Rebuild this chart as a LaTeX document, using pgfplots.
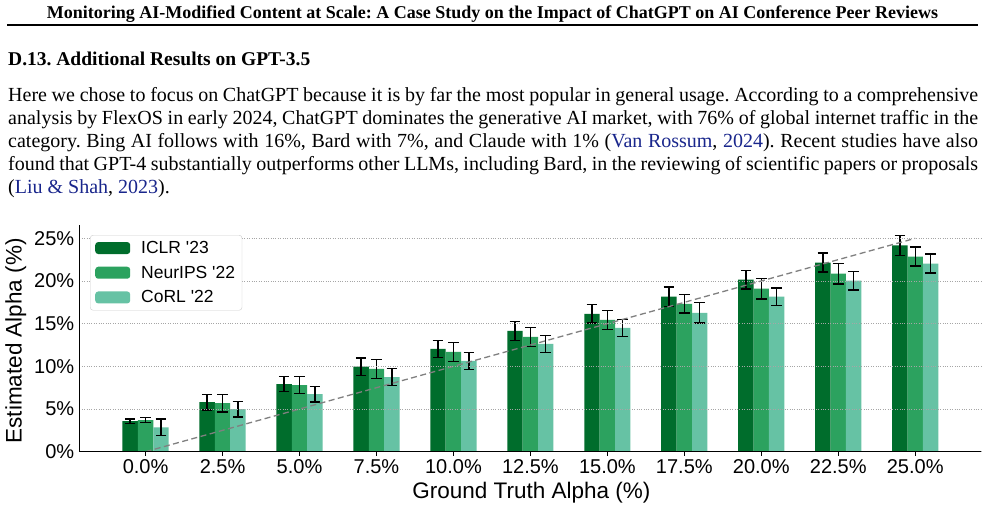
\documentclass[border=0pt]{standalone}
\usepackage{fontspec}
\setmainfont{Liberation Serif}
\newfontfamily\arial{Liberation Sans}
\usepackage{pgfplots}
\usepackage{pgfplotstable}
\pgfplotsset{compat=1.18}

\definecolor{iclr}{HTML}{006D2C}
\definecolor{neurips}{HTML}{2CA25F}
\definecolor{corl}{HTML}{66C2A4}
\definecolor{citeblue}{rgb}{0.10,0.15,0.55}

% estimated alpha (%) and error half-widths per ground-truth level
\pgfplotstableread{
x y e
0 3.57 0.24
1 5.80 0.92
2 7.92 0.90
3 9.96 1.00
4 12.04 1.00
5 14.16 1.10
6 16.16 1.10
7 18.16 1.14
8 20.16 1.10
9 22.16 1.10
10 24.16 1.20
}\tabICLR
\pgfplotstableread{
x y e
0 3.69 0.30
1 5.69 1.02
2 7.80 1.00
3 9.69 1.10
4 11.69 1.10
5 13.45 1.10
6 15.45 1.10
7 17.33 1.10
8 19.10 1.20
9 20.86 1.20
10 22.86 1.10
}\tabNeurIPS
\pgfplotstableread{
x y e
0 2.86 0.98
1 4.98 0.92
2 6.75 0.92
3 8.75 1.02
4 10.63 1.00
5 12.63 1.00
6 14.50 1.00
7 16.27 1.20
8 18.16 1.00
9 20.04 1.10
10 22.04 1.10
}\tabCoRL

\pgfplotsset{
  barleg/.style={legend image code/.code={\fill[##1] (0bp,-6bp) rectangle (35bp,6bp);}},
  errs/.style={error bars/.cd, y dir=both, y explicit,
    error bar style={line width=1.4bp, black},
    error mark options={rotate=90, mark size=5.3bp, line width=1.4bp, black}},
}

\begin{document}
\frenchspacing
\begin{tikzpicture}
\fill[white] (0bp,0bp) rectangle (985bp,510bp);
\useasboundingbox (0bp,0bp) rectangle (985bp,510bp);

% running head and rule
\node[anchor=base, inner sep=0, font=\fontsize{18bp}{20bp}\selectfont\bfseries]
  at (492.5bp,491bp) {Monitoring AI-Modified Content at Scale: A Case Study on the Impact of ChatGPT on AI Conference Peer Reviews};
\draw[line width=1.6bp] (7bp,485bp) -- (978bp,485bp);

% section heading
\node[anchor=base west, inner sep=0, font=\fontsize{19.5bp}{23bp}\selectfont\bfseries]
  at (8bp,444.5bp) {D.13. Additional Results on GPT-3.5};

% body text
\node[anchor=base west, inner sep=0, text width=970bp, align=justify,
      font=\fontsize{20bp}{23bp}\selectfont] at (8bp,408.3bp) {%
Here we chose to focus on ChatGPT because it is by far the most popular in general usage. According to a comprehensive\linebreak
analysis by FlexOS in early 2024, ChatGPT dominates the generative AI market, with 76\% of global internet traffic in the\linebreak
category. Bing AI follows with 16\%, Bard with 7\%, and Claude with 1\% ({\color{citeblue}Van Rossum}, {\color{citeblue}2024}). Recent studies have also\linebreak
found that GPT-4 substantially outperforms other LLMs, including Bard, in the reviewing of scientific papers or proposals\linebreak
({\color{citeblue}Liu \& Shah}, {\color{citeblue}2023}).};

\begin{axis}[
  at={(79.4bp,58.3bp)}, anchor=south west,
  scale only axis, width=902bp, height=226.2bp,
  xmin=-0.86, xmax=10.86, ymin=0, ymax=26.5,
  axis x line*=bottom, axis y line*=left,
  axis line style={line width=1.3bp, black},
  axis on top,
  xtick={0,...,10},
  xticklabels={0.0\%,2.5\%,5.0\%,7.5\%,10.0\%,12.5\%,15.0\%,17.5\%,20.0\%,22.5\%,25.0\%},
  ytick={0,5,10,15,20,25},
  yticklabels={0\%,5\%,10\%,15\%,20\%,25\%},
  tick align=outside, major tick length=4bp,
  tick style={line width=1bp, black},
  ytick style={draw=none},
  ticklabel style={font=\arial\fontsize{20bp}{22bp}\selectfont},
  xticklabel style={inner sep=1bp, yshift=-3bp},
  yticklabel style={inner sep=1bp},
  ymajorgrids,
  grid style={dotted, line width=0.9bp, black!35},
  xlabel={Ground Truth Alpha (\%)},
  ylabel={Estimated Alpha (\%)},
  label style={font=\arial\fontsize{22.5bp}{26bp}\selectfont},
  xlabel style={at={(axis description cs:0.501,-0.18)}, anchor=center},
  ylabel style={at={(axis description cs:-0.0704,0.49)}, anchor=center},
  legend style={at={(axis description cs:0.0118,0.958)}, anchor=north west,
    draw=black!20, rounded corners=3bp, fill=white,
    font=\arial\fontsize{17.5bp}{20bp}\selectfont,
    inner xsep=5bp, inner ysep=4bp, row sep=7bp, column sep=9bp},
  legend cell align=left,
]
\addplot[ybar, bar width=0.2, bar shift=0, fill=iclr, draw=none, barleg, errs]
  table[x expr=\thisrow{x}-0.2, y=y, y error=e] {\tabICLR};
\addlegendentry{ICLR '23}
\addplot[ybar, bar width=0.2, bar shift=0, fill=neurips, draw=none, barleg, errs]
  table[x=x, y=y, y error=e] {\tabNeurIPS};
\addlegendentry{NeurIPS '22}
\addplot[ybar, bar width=0.2, bar shift=0, fill=corl, draw=none, barleg, errs]
  table[x expr=\thisrow{x}+0.2, y=y, y error=e] {\tabCoRL};
\addlegendentry{CoRL '22}
% identity reference line
\addplot[forget plot, color=black!50, line width=1.3bp, dash pattern=on 6bp off 3.5bp]
  coordinates {(0,0) (10,25)};
\end{axis}
\end{tikzpicture}
\end{document}
